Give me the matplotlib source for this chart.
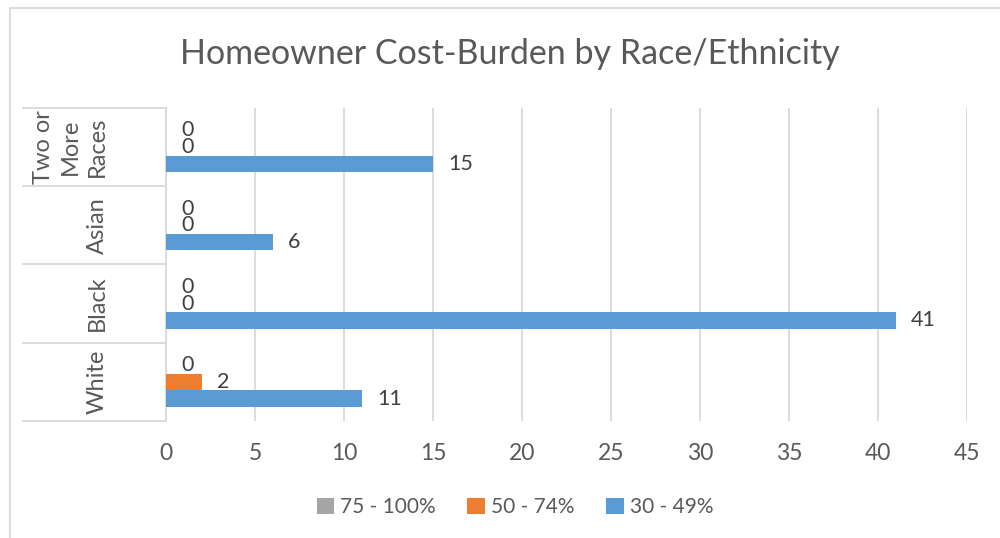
import numpy as np
import matplotlib.pyplot as plt
from matplotlib.lines import Line2D
from matplotlib.patches import Patch
import matplotlib.transforms as mtransforms

plt.rcParams['font.family'] = ['Lato', 'DejaVu Sans']

# Data (categories listed bottom to top)
categories = ['White', 'Black', 'Asian', 'Two or\nMore\nRaces']
series_names = ['30 - 49%', '50 - 74%', '75 - 100%']
pct_30_49 = [11, 41, 6, 15]
pct_50_74 = [2, 0, 0, 0]
pct_75_100 = [0, 0, 0, 0]

colors = ['#5B9BD5', '#ED7D31', '#A5A5A5']
text_color = '#595959'
label_color = '#404040'
grid_color = '#D9D9D9'

fig = plt.figure(figsize=(10, 5.38), dpi=100)
ax = fig.add_axes([0.166, 0.2175, 0.801, 0.5818])

y = np.arange(len(categories))
bar_h = 0.21
step = 0.215
for i, (vals, name, col) in enumerate(zip([pct_30_49, pct_50_74, pct_75_100], series_names, colors)):
    pos = y + (i - 1) * step
    ax.barh(pos, vals, height=bar_h, color=col, zorder=3, label=name)
    for p, v in zip(pos, vals):
        ax.annotate(f'{v}', xy=(v, p), xytext=(11, 0), textcoords='offset points',
                    ha='left', va='center', fontsize=15.5, color=label_color)

ax.set_xlim(0, 45)
ax.set_ylim(-0.5, len(categories) - 0.5)
ax.set_xticks(np.arange(0, 46, 5))
ax.tick_params(axis='x', length=0, pad=16, labelsize=16.5, labelcolor=text_color)
ax.set_yticks([])
ax.grid(axis='x', color=grid_color, linewidth=1.3, zorder=0)
for s in ['top', 'right', 'bottom']:
    ax.spines[s].set_visible(False)
ax.spines['left'].set_color(grid_color)
ax.spines['left'].set_linewidth(1.3)

# Category separators and rotated labels
trans = mtransforms.blended_transform_factory(ax.transAxes, ax.transData)
for b in np.arange(-0.5, len(categories), 1.0):
    ax.plot([-0.1785, 0], [b, b], transform=trans, color=grid_color,
            linewidth=1.3, clip_on=False)
for yi, cat in zip(y, categories):
    ax.text(-0.0725, yi, cat, transform=trans, rotation=90, ha='right', va='center',
            multialignment='center', fontsize=17, color=text_color, linespacing=1.35)

fig.text(0.51, 0.900, 'Homeowner Cost-Burden by Race/Ethnicity', ha='center', va='center',
         fontsize=24.5, color=text_color)

# Legend (reverse order)
legend_handles = [Patch(facecolor=c, edgecolor='none') for c in colors[::-1]]
fig.legend(legend_handles, series_names[::-1], loc='center', bbox_to_anchor=(0.515, 0.057),
           ncol=3, frameon=False, fontsize=15, labelcolor=text_color,
           handlelength=0.85, handleheight=0.85, handletextpad=0.3, columnspacing=1.5)

# Chart area border (left and top edges)
fig.add_artist(Line2D([0.010, 0.010], [0, 0.985], color=grid_color, linewidth=1.3))
fig.add_artist(Line2D([0.010, 1.0], [0.985, 0.985], color=grid_color, linewidth=1.3))

fig.savefig('out.png', dpi=100)
